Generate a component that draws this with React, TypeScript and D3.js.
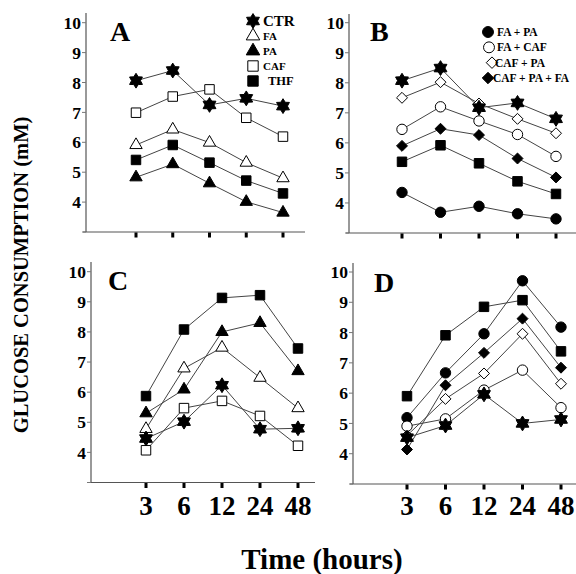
import React from 'react';
import * as d3 from 'd3';

const times = ['3', '6', '12', '24', '48'];
const yTicks = [4, 5, 6, 7, 8, 9, 10];

// Panel A
const aCTR = [8.06, 8.4, 7.25, 7.47, 7.21];
const aCAF = [6.99, 7.53, 7.77, 6.82, 6.19];
const aFA = [5.91, 6.43, 5.99, 5.32, 4.8];
const aTHF = [5.41, 5.91, 5.32, 4.72, 4.29];
const aPA = [4.83, 5.27, 4.63, 4.01, 3.65];
// Panel B
const bCTR = [8.07, 8.49, 7.17, 7.33, 6.8];
const bCAFPA = [7.5, 8.02, 7.31, 6.8, 6.32];
const bFACAF = [6.45, 7.2, 6.73, 6.28, 5.55];
const bCAFPAFA = [5.9, 6.47, 6.26, 5.48, 4.85];
const bTHF = [5.37, 5.92, 5.32, 4.72, 4.3];
const bFAPA = [4.35, 3.69, 3.89, 3.64, 3.47];
// Panel C
const cTHF = [5.87, 8.08, 9.13, 9.22, 7.45];
const cPA = [5.3, 6.09, 8.0, 8.3, 6.7];
const cFA = [4.78, 6.79, 7.48, 6.48, 5.47];
const cCTR = [4.46, 5.02, 6.23, 4.77, 4.8];
const cCAF = [4.07, 5.47, 5.71, 5.21, 4.22];
// Panel D
const dFAPA = [5.19, 6.67, 7.96, 9.71, 8.18];
const dTHF = [5.9, 7.91, 8.85, 9.07, 7.38];
const dCAFPAFA = [4.14, 6.26, 7.33, 8.46, 6.84];
const dCAFPA = [4.6, 5.81, 6.65, 7.96, 6.31];
const dFACAF = [4.91, 5.15, 6.1, 6.76, 5.52];
const dCTR = [4.53, 4.93, 5.96, 5.0, 5.13];

const legendA = ['CTR', 'FA', 'PA', 'CAF', 'THF'];
const legendB = ['FA + PA', 'FA + CAF', 'CAF + PA', 'CAF + PA + FA'];

const FONT = '"Liberation Serif", "Times New Roman", serif';

const hexStar = {
  draw(ctx: any, size: number) {
    const R = Math.sqrt(size) / 2;
    const r = R * 0.6;
    for (let i = 0; i < 12; i++) {
      const a = (i * Math.PI) / 6 - Math.PI / 2;
      const rad = i % 2 === 0 ? R : r;
      const px = rad * Math.cos(a);
      const py = rad * Math.sin(a);
      if (i === 0) ctx.moveTo(px, py);
      else ctx.lineTo(px, py);
    }
    ctx.closePath();
  },
};
const diamond = {
  draw(ctx: any, size: number) {
    const r = Math.sqrt(size) / 2;
    ctx.moveTo(0, -r);
    ctx.lineTo(r, 0);
    ctx.lineTo(0, r);
    ctx.lineTo(-r, 0);
    ctx.closePath();
  },
};

type Mk = { type: any; size: number; fill: string };
const MK: Record<string, Mk> = {
  CTR: { type: hexStar, size: 220, fill: '#000' },
  FA: { type: d3.symbolTriangle, size: 66, fill: '#fff' },
  PA: { type: d3.symbolTriangle, size: 66, fill: '#000' },
  CAF: { type: d3.symbolSquare, size: 90, fill: '#fff' },
  THF: { type: d3.symbolSquare, size: 90, fill: '#000' },
  FAPA: { type: d3.symbolCircle, size: 85, fill: '#000' },
  FACAF: { type: d3.symbolCircle, size: 85, fill: '#fff' },
  CAFPA: { type: diamond, size: 120, fill: '#fff' },
  CAFPAFA: { type: diamond, size: 120, fill: '#000' },
};

type Series = { key: string; values: number[] };

const panels = [
  {
    letter: 'A', ax: 86, axTop: 13, yTop: 22.7, yBot: 232, xs: 136, xe: 283, axEnd: 305, lx: 110, ly: 41, xLabels: false,
    series: [
      { key: 'CAF', values: aCAF }, { key: 'CTR', values: aCTR }, { key: 'FA', values: aFA },
      { key: 'THF', values: aTHF }, { key: 'PA', values: aPA },
    ] as Series[],
  },
  {
    letter: 'B', ax: 349, axTop: 14, yTop: 22.7, yBot: 233, xs: 402, xe: 556, axEnd: 576, lx: 370, ly: 41, xLabels: false,
    series: [
      { key: 'CAFPA', values: bCAFPA }, { key: 'CTR', values: bCTR }, { key: 'FACAF', values: bFACAF },
      { key: 'CAFPAFA', values: bCAFPAFA }, { key: 'THF', values: bTHF }, { key: 'FAPA', values: bFAPA },
    ] as Series[],
  },
  {
    letter: 'C', ax: 91, axTop: 262, yTop: 271.7, yBot: 482.5, xs: 146, xe: 298, axEnd: 315, lx: 108, ly: 290, xLabels: true,
    series: [
      { key: 'THF', values: cTHF }, { key: 'PA', values: cPA }, { key: 'FA', values: cFA },
      { key: 'CAF', values: cCAF }, { key: 'CTR', values: cCTR },
    ] as Series[],
  },
  {
    letter: 'D', ax: 353, axTop: 263, yTop: 272, yBot: 484, xs: 407, xe: 561, axEnd: 576, lx: 374, ly: 292, xLabels: true,
    series: [
      { key: 'THF', values: dTHF }, { key: 'FAPA', values: dFAPA }, { key: 'CAFPAFA', values: dCAFPAFA },
      { key: 'CAFPA', values: dCAFPA }, { key: 'FACAF', values: dFACAF }, { key: 'CTR', values: dCTR },
    ] as Series[],
  },
];

function sym(key: string, scale = 1) {
  const m = MK[key];
  return d3.symbol().type(m.type).size(m.size * scale)() as string;
}

function Panel({ p }: { p: (typeof panels)[number] }) {
  const x = d3.scalePoint<string>().domain(times).range([p.xs, p.xe]);
  const y = d3.scaleLinear().domain([3, 10]).range([p.yBot, p.yTop]);
  const line = d3
    .line<number>()
    .x((_, i) => x(times[i]) as number)
    .y((v) => y(v));
  return (
    <g>
      <line x1={p.ax} x2={p.ax} y1={p.axTop} y2={p.yBot} stroke="#555" strokeWidth={1.2} />
      <line x1={p.ax - 3} x2={p.axEnd} y1={p.yBot} y2={p.yBot} stroke="#555" strokeWidth={1.2} />
      {[3, ...yTicks].map((t) => (
        <line key={t} x1={p.ax - 4} x2={p.ax} y1={y(t)} y2={y(t)} stroke="#777" strokeWidth={1} />
      ))}
      {yTicks.map((t) => (
        <text key={t} x={p.ax - 5} y={y(t)} dy="0.35em" textAnchor="end" fontFamily={FONT} fontWeight="bold" fontSize={17.5}>
          {t}
        </text>
      ))}
      {times.map((t) => (
        <rect key={t} x={(x(t) as number) - 1.5} y={p.yBot + 0.5} width={3} height={5} fill="#000" />
      ))}
      {p.xLabels &&
        times.map((t) => (
          <text key={t} x={x(t) as number} y={515} textAnchor="middle" fontFamily={FONT} fontWeight="bold" fontSize={27}>
            {t}
          </text>
        ))}
      <text x={p.lx} y={p.ly} fontFamily={FONT} fontWeight="bold" fontSize={28}>
        {p.letter}
      </text>
      {p.series.map((s) => (
        <path key={s.key + 'l'} d={line(s.values) as string} fill="none" stroke="#444" strokeWidth={1} />
      ))}
      {p.series.map((s) =>
        s.values.map((v, i) => (
          <path
            key={s.key + i}
            d={sym(s.key)}
            transform={`translate(${x(times[i])},${y(v)})`}
            fill={MK[s.key].fill}
            stroke="#000"
            strokeWidth={1}
          />
        ))
      )}
    </g>
  );
}

export default function App() {
  const legAKeys = ['CTR', 'FA', 'PA', 'CAF', 'THF'];
  const legASizes = [15, 11, 11, 11, 12.5];
  const legBKeys = ['FAPA', 'FACAF', 'CAFPA', 'CAFPAFA'];
  const legBMarkX = [488, 489, 492, 488];
  const legBTextX = [497, 497, 495, 493];
  const legAY = d3.scaleLinear().domain([0, 4]).range([21, 81]);
  const legBY = d3.scaleLinear().domain([0, 3]).range([32, 78]);
  return (
    <svg width={576} height={574} style={{ position: 'absolute', left: 0, top: 0, background: '#fff' }}>
      <rect width={576} height={574} fill="#fff" />
      {panels.map((p) => (
        <Panel key={p.letter} p={p} />
      ))}
      {legendA.map((l, i) => (
        <g key={l}>
          <path d={sym(legAKeys[i], i === 0 ? 1 : 1.2)} transform={`translate(253,${legAY(i)})`} fill={MK[legAKeys[i]].fill} stroke="#000" />
          <text x={i === 4 ? 268 : 263} y={legAY(i)} dy="0.35em" fontFamily={FONT} fontWeight="bold" fontSize={legASizes[i]}>
            {l}
          </text>
        </g>
      ))}
      {legendB.map((l, i) => (
        <g key={l}>
          <path d={sym(legBKeys[i], 1.1)} transform={`translate(${legBMarkX[i]},${legBY(i)})`} fill={MK[legBKeys[i]].fill} stroke="#000" />
          <text x={legBTextX[i]} y={legBY(i)} dy="0.35em" fontFamily={FONT} fontWeight="bold" fontSize={11.5}>
            {l}
          </text>
        </g>
      ))}
      <text
        transform="translate(28,275) rotate(-90)"
        textAnchor="middle"
        fontFamily={FONT}
        fontWeight="bold"
        fontSize={20.5}
      >
        GLUCOSE CONSUMPTION (mM)
      </text>
      <text x={322} y={569} textAnchor="middle" fontFamily={FONT} fontWeight="bold" fontSize={29}>
        Time (hours)
      </text>
    </svg>
  );
}
